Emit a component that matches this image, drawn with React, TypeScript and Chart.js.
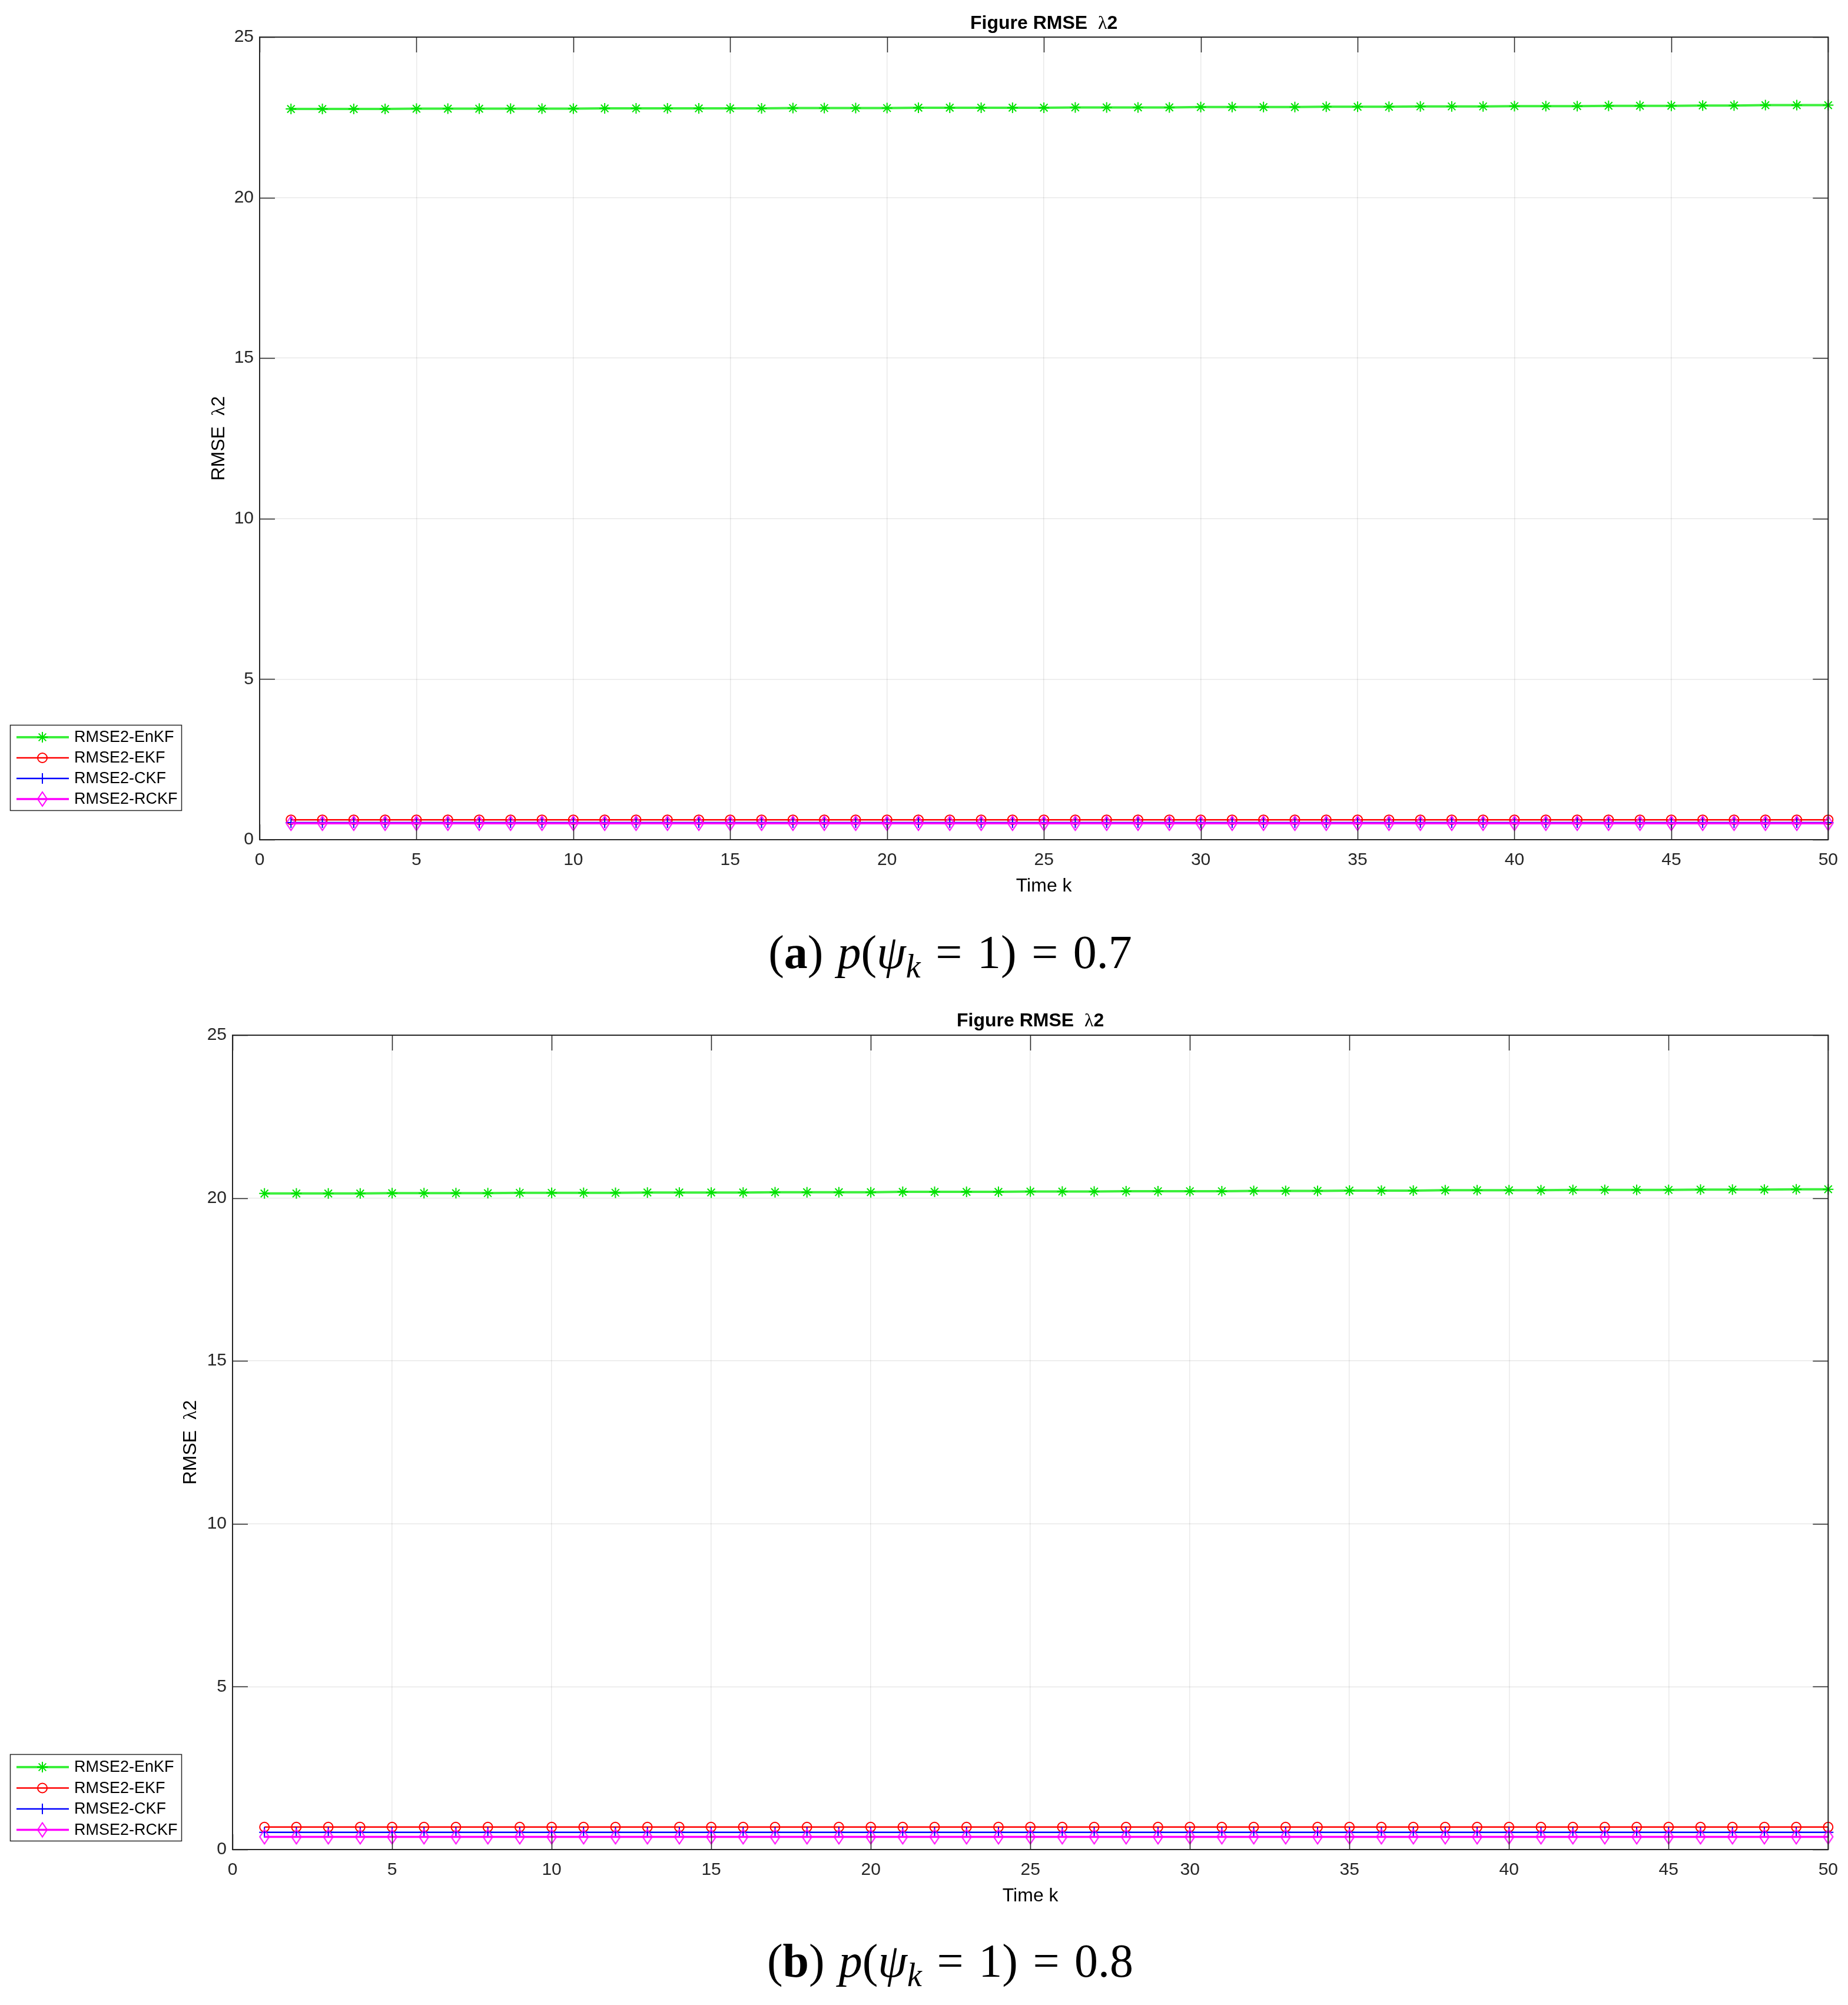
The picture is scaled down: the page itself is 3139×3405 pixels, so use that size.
import React, { useEffect, useRef } from 'react';
import { Chart, registerables } from 'chart.js';

Chart.register(...registerables);

// ---------------- data ----------------
const timeK = [1, 2, 3, 4, 5, 6, 7, 8, 9, 10, 11, 12, 13, 14, 15, 16, 17, 18, 19, 20, 21, 22, 23, 24, 25, 26, 27, 28, 29, 30, 31, 32, 33, 34, 35, 36, 37, 38, 39, 40, 41, 42, 43, 44, 45, 46, 47, 48, 49, 50];
const xTickValues = [0, 5, 10, 15, 20, 25, 30, 35, 40, 45, 50];
const yTickValues = [0, 5, 10, 15, 20, 25];
const seriesNames = ['RMSE2-EnKF', 'RMSE2-EKF', 'RMSE2-CKF', 'RMSE2-RCKF'];

// (a) p(psi_k = 1) = 0.7
const enkfA = [22.76, 22.76, 22.76, 22.76, 22.77, 22.77, 22.77, 22.77, 22.77, 22.77, 22.78, 22.78, 22.78, 22.78, 22.78, 22.78, 22.79, 22.79, 22.79, 22.79, 22.8, 22.8, 22.8, 22.8, 22.8, 22.81, 22.81, 22.81, 22.81, 22.82, 22.82, 22.82, 22.82, 22.83, 22.83, 22.83, 22.84, 22.84, 22.84, 22.85, 22.85, 22.85, 22.86, 22.86, 22.86, 22.87, 22.87, 22.88, 22.88, 22.88];
const ekfA = [0.62, 0.62, 0.62, 0.62, 0.62, 0.62, 0.62, 0.62, 0.62, 0.62, 0.62, 0.62, 0.62, 0.62, 0.62, 0.62, 0.62, 0.62, 0.62, 0.62, 0.62, 0.62, 0.62, 0.62, 0.62, 0.62, 0.62, 0.62, 0.62, 0.62, 0.62, 0.62, 0.62, 0.62, 0.62, 0.62, 0.62, 0.62, 0.62, 0.62, 0.62, 0.62, 0.62, 0.62, 0.62, 0.62, 0.62, 0.62, 0.62, 0.62];
const ckfA = [0.53, 0.53, 0.53, 0.53, 0.53, 0.53, 0.53, 0.53, 0.53, 0.53, 0.53, 0.53, 0.53, 0.53, 0.53, 0.53, 0.53, 0.53, 0.53, 0.53, 0.53, 0.53, 0.53, 0.53, 0.53, 0.53, 0.53, 0.53, 0.53, 0.53, 0.53, 0.53, 0.53, 0.53, 0.53, 0.53, 0.53, 0.53, 0.53, 0.53, 0.53, 0.53, 0.53, 0.53, 0.53, 0.53, 0.53, 0.53, 0.53, 0.53];
const rckfA = [0.51, 0.51, 0.51, 0.51, 0.51, 0.51, 0.51, 0.51, 0.51, 0.51, 0.51, 0.51, 0.51, 0.51, 0.51, 0.51, 0.51, 0.51, 0.51, 0.51, 0.51, 0.51, 0.51, 0.51, 0.51, 0.51, 0.51, 0.51, 0.51, 0.51, 0.51, 0.51, 0.51, 0.51, 0.51, 0.51, 0.51, 0.51, 0.51, 0.51, 0.51, 0.51, 0.51, 0.51, 0.51, 0.51, 0.51, 0.51, 0.51, 0.51];

// (b) p(psi_k = 1) = 0.8
const enkfB = [20.14, 20.14, 20.14, 20.14, 20.15, 20.15, 20.15, 20.15, 20.16, 20.16, 20.16, 20.16, 20.17, 20.17, 20.17, 20.17, 20.18, 20.18, 20.18, 20.18, 20.19, 20.19, 20.19, 20.19, 20.2, 20.2, 20.2, 20.21, 20.21, 20.21, 20.21, 20.22, 20.22, 20.22, 20.23, 20.23, 20.23, 20.24, 20.24, 20.24, 20.24, 20.25, 20.25, 20.25, 20.25, 20.26, 20.26, 20.26, 20.27, 20.27];
const ekfB = [0.69, 0.69, 0.69, 0.69, 0.69, 0.69, 0.69, 0.69, 0.69, 0.69, 0.69, 0.69, 0.69, 0.69, 0.69, 0.69, 0.69, 0.69, 0.69, 0.69, 0.69, 0.69, 0.69, 0.69, 0.69, 0.69, 0.69, 0.69, 0.69, 0.69, 0.69, 0.69, 0.69, 0.69, 0.69, 0.69, 0.69, 0.69, 0.69, 0.69, 0.69, 0.69, 0.69, 0.69, 0.69, 0.69, 0.69, 0.69, 0.69, 0.69];
const ckfB = [0.53, 0.53, 0.53, 0.53, 0.53, 0.53, 0.53, 0.53, 0.53, 0.53, 0.53, 0.53, 0.53, 0.53, 0.53, 0.53, 0.53, 0.53, 0.53, 0.53, 0.53, 0.53, 0.53, 0.53, 0.53, 0.53, 0.53, 0.53, 0.53, 0.53, 0.53, 0.53, 0.53, 0.53, 0.53, 0.53, 0.53, 0.53, 0.53, 0.53, 0.53, 0.53, 0.53, 0.53, 0.53, 0.53, 0.53, 0.53, 0.53, 0.53];
const rckfB = [0.39, 0.39, 0.39, 0.39, 0.39, 0.39, 0.39, 0.39, 0.39, 0.39, 0.39, 0.39, 0.39, 0.39, 0.39, 0.39, 0.39, 0.39, 0.39, 0.39, 0.39, 0.39, 0.39, 0.39, 0.39, 0.39, 0.39, 0.39, 0.39, 0.39, 0.39, 0.39, 0.39, 0.39, 0.39, 0.39, 0.39, 0.39, 0.39, 0.39, 0.39, 0.39, 0.39, 0.39, 0.39, 0.39, 0.39, 0.39, 0.39, 0.39];

// ---------------- styling ----------------
const SANS = '"Liberation Sans", Arial, Helvetica, sans-serif';
const SERIF = '"Liberation Serif", "Times New Roman", serif';
const AXIS_COLOR = '#262626';

function makeDiamond(color: string): HTMLCanvasElement {
  const c = document.createElement('canvas');
  c.width = 20;
  c.height = 28;
  const ctx = c.getContext('2d')!;
  ctx.strokeStyle = color;
  ctx.lineWidth = 2;
  ctx.beginPath();
  ctx.moveTo(10, 2);
  ctx.lineTo(18, 14);
  ctx.lineTo(10, 26);
  ctx.lineTo(2, 14);
  ctx.closePath();
  ctx.stroke();
  return c;
}

function drawMarker(ctx: CanvasRenderingContext2D, style: any, x: number, y: number, r: number, bw: number, color: string) {
  ctx.save();
  ctx.strokeStyle = color;
  ctx.lineWidth = bw;
  if (style && typeof style === 'object') {
    ctx.drawImage(style, x - style.width / 2, y - style.height / 2);
  } else if (style === 'circle') {
    ctx.beginPath();
    ctx.arc(x, y, r, 0, Math.PI * 2);
    ctx.stroke();
  } else if (style === 'cross') {
    ctx.beginPath();
    ctx.moveTo(x, y - r); ctx.lineTo(x, y + r);
    ctx.moveTo(x - r, y); ctx.lineTo(x + r, y);
    ctx.stroke();
  } else if (style === 'star') {
    const d = r * Math.SQRT1_2;
    ctx.beginPath();
    ctx.moveTo(x, y - r); ctx.lineTo(x, y + r);
    ctx.moveTo(x - r, y); ctx.lineTo(x + r, y);
    ctx.moveTo(x - d, y - d); ctx.lineTo(x + d, y + d);
    ctx.moveTo(x - d, y + d); ctx.lineTo(x + d, y - d);
    ctx.stroke();
  }
  ctx.restore();
}

type Part = { t: string; f: string };
function drawMixed(ctx: CanvasRenderingContext2D, parts: Part[], cx: number, cy: number, size: number, rotate: boolean) {
  ctx.save();
  ctx.translate(cx, cy);
  if (rotate) ctx.rotate(-Math.PI / 2);
  let total = 0;
  const widths = parts.map((p) => {
    ctx.font = p.f;
    const w = ctx.measureText(p.t).width;
    total += w;
    return w;
  });
  let x = -total / 2;
  ctx.fillStyle = '#000';
  ctx.textBaseline = 'alphabetic';
  ctx.textAlign = 'left';
  parts.forEach((p, i) => {
    ctx.font = p.f;
    ctx.fillText(p.t, x, size * 0.36);
    x += widths[i];
  });
  ctx.restore();
}

const framePlugin = {
  id: 'matlabFrame',
  afterDraw(chart: any, _args: any, opts: any) {
    const ctx: CanvasRenderingContext2D = chart.ctx;
    const { left, right, top, bottom } = chart.chartArea;
    const xs = chart.scales.x;
    const ys = chart.scales.y;
    const tl = opts.tickLen;

    // box + inner ticks
    ctx.save();
    ctx.strokeStyle = AXIS_COLOR;
    ctx.lineWidth = 2;
    ctx.strokeRect(left, top, right - left, bottom - top);
    ctx.beginPath();
    xTickValues.forEach((v) => {
      const px = Math.round(xs.getPixelForValue(v)) + 0.5;
      ctx.moveTo(px, bottom); ctx.lineTo(px, bottom - tl);
      ctx.moveTo(px, top); ctx.lineTo(px, top + tl);
    });
    yTickValues.forEach((v) => {
      const py = Math.round(ys.getPixelForValue(v)) + 0.5;
      ctx.moveTo(left, py); ctx.lineTo(left + tl, py);
      ctx.moveTo(right, py); ctx.lineTo(right - tl, py);
    });
    ctx.lineWidth = 1.5;
    ctx.stroke();
    ctx.restore();

    // titles
    const cx = (left + right) / 2;
    const ts = opts.titleSize;
    drawMixed(ctx, [
      { t: 'Figure RMSE  ', f: `bold ${ts}px ${SANS}` },
      { t: 'λ', f: `${ts}px ${SERIF}` },
      { t: '2', f: `bold ${ts}px ${SANS}` },
    ], cx, top - opts.titleGap, ts, false);
    const ls = opts.labelSize;
    drawMixed(ctx, [
      { t: 'RMSE  ', f: `${ls}px ${SANS}` },
      { t: 'λ', f: `${ls}px ${SERIF}` },
      { t: '2', f: `${ls}px ${SANS}` },
    ], opts.yTitleX, (top + bottom) / 2, ls, true);
    drawMixed(ctx, [{ t: 'Time k', f: `${ls}px ${SANS}` }], cx, bottom + opts.xTitleGap, ls, false);

    // legend
    const lb = opts.legendBox;
    ctx.save();
    ctx.fillStyle = '#fff';
    ctx.fillRect(lb.x, lb.y, lb.w, lb.h);
    ctx.strokeStyle = AXIS_COLOR;
    ctx.lineWidth = 1.5;
    ctx.strokeRect(lb.x + 0.5, lb.y + 0.5, lb.w, lb.h);
    chart.data.datasets.forEach((ds: any, i: number) => {
      const y = lb.y + lb.firstRow + i * lb.rowGap;
      ctx.strokeStyle = ds.borderColor;
      ctx.lineWidth = ds.borderWidth;
      ctx.beginPath();
      ctx.moveTo(lb.x + 11, y);
      ctx.lineTo(lb.x + 100, y);
      ctx.stroke();
      drawMarker(ctx, ds.pointStyle, lb.x + 55, y, ds.pointRadius, ds.pointBorderWidth, ds.pointBorderColor);
      ctx.fillStyle = '#000';
      ctx.font = `${lb.fontSize}px ${SANS}`;
      ctx.textAlign = 'left';
      ctx.textBaseline = 'middle';
      ctx.fillText(ds.label, lb.x + 109, y + 1);
    });
    ctx.restore();
  },
};

function buildConfig(series: number[][], area: any, canvasH: number, frameOpts: any) {
  const diamond = makeDiamond('rgb(255,0,255)');
  const styles = [
    { line: 'rgb(60,240,60)', point: 'rgb(0,225,0)', lw: 4, ps: 'star', r: 9, pbw: 2, order: 4 },
    { line: 'rgb(255,0,0)', point: 'rgb(255,0,0)', lw: 2.5, ps: 'circle', r: 8, pbw: 2, order: 3 },
    { line: 'rgb(0,0,255)', point: 'rgb(0,0,255)', lw: 2.5, ps: 'cross', r: 9, pbw: 2, order: 2 },
    { line: 'rgb(255,0,255)', point: 'rgb(255,0,255)', lw: 3.5, ps: diamond as any, r: 10, pbw: 2, order: 1 },
  ];
  const W = 3139;
  const yW = 60;
  const xH = 60;
  return {
    type: 'line' as const,
    data: {
      datasets: series.map((vals, i) => ({
        label: seriesNames[i],
        data: timeK.map((k, j) => ({ x: k, y: vals[j] })),
        borderColor: styles[i].line,
        borderWidth: styles[i].lw,
        pointStyle: styles[i].ps,
        pointRadius: styles[i].r,
        pointBorderWidth: styles[i].pbw,
        pointBorderColor: styles[i].point,
        pointBackgroundColor: 'rgba(0,0,0,0)',
        tension: 0,
        clip: false as any,
        order: styles[i].order,
      })),
    },
    options: {
      responsive: false,
      animation: false as const,
      devicePixelRatio: 1,
      events: [] as any,
      layout: {
        padding: {
          left: area.left - yW,
          right: W - area.right,
          top: area.top,
          bottom: canvasH - area.bottom - xH,
        },
      },
      scales: {
        x: {
          type: 'linear' as const,
          min: 0,
          max: 50,
          afterFit: (s: any) => { s.height = xH; },
          afterBuildTicks: (s: any) => { s.ticks = xTickValues.map((v) => ({ value: v })); },
          ticks: { font: { family: SANS, size: 30 }, color: AXIS_COLOR, padding: 17, maxRotation: 0 },
          grid: { color: 'rgba(38,38,38,0.10)', lineWidth: 1.5, drawTicks: false },
          border: { display: false },
        },
        y: {
          type: 'linear' as const,
          min: 0,
          max: 25,
          afterFit: (s: any) => { s.width = yW; },
          afterBuildTicks: (s: any) => { s.ticks = yTickValues.map((v) => ({ value: v })); },
          ticks: { font: { family: SANS, size: 30 }, color: AXIS_COLOR, padding: 10 },
          grid: { color: 'rgba(38,38,38,0.10)', lineWidth: 1.5, drawTicks: false },
          border: { display: false },
        },
      },
      plugins: {
        legend: { display: false },
        title: { display: false },
        tooltip: { enabled: false },
        matlabFrame: frameOpts,
      },
    },
    plugins: [framePlugin],
  };
}

const captionStyle: React.CSSProperties = {
  position: 'absolute',
  left: 614,
  width: 2000,
  height: 110,
  lineHeight: '110px',
  textAlign: 'center',
  fontFamily: SERIF,
  fontSize: 80,
  color: '#000',
  whiteSpace: 'nowrap',
};

function Caption({ letter, value, top }: { letter: string; value: string; top: number }) {
  const eq: React.CSSProperties = { margin: '0 0.32em' };
  return (
    <div style={{ ...captionStyle, top }}>
      (<b>{letter}</b>)<span style={{ marginLeft: '0.3em' }} /><i>p</i>(<i>ψ</i>
      <i style={{ fontSize: '0.7em', position: 'relative', top: '0.28em' }}>k</i>
      <span style={eq}>=</span>1)<span style={eq}>=</span>{value}
    </div>
  );
}

export default function App() {
  const ref1 = useRef<HTMLCanvasElement>(null);
  const ref2 = useRef<HTMLCanvasElement>(null);

  useEffect(() => {
    const H1 = 1570;
    const H2 = 1580;
    const c1 = new Chart(ref1.current!, buildConfig(
      [enkfA, ekfA, ckfA, rckfA],
      { left: 441, right: 3109, top: 63, bottom: 1426 },
      H1,
      {
        tickLen: 26, titleSize: 32, labelSize: 32, titleGap: 26, xTitleGap: 76, yTitleX: 369,
        legendBox: { x: 17, y: 1231, w: 291, h: 145, firstRow: 21, rowGap: 35, fontSize: 27 },
      },
    ) as any);
    const c2 = new Chart(ref2.current!, buildConfig(
      [enkfB, ekfB, ckfB, rckfB],
      { left: 395, right: 3109, top: 68, bottom: 1451 },
      H2,
      {
        tickLen: 26, titleSize: 32, labelSize: 32, titleGap: 27, xTitleGap: 76, yTitleX: 321,
        legendBox: { x: 17, y: 1289, w: 291, h: 147, firstRow: 22, rowGap: 35.5, fontSize: 27 },
      },
    ) as any);
    return () => {
      c1.destroy();
      c2.destroy();
    };
  }, []);

  return (
    <div style={{ position: 'absolute', left: 0, top: 0, width: 3139, height: 3405, background: '#fff', overflow: 'hidden' }}>
      <canvas ref={ref1} width={3139} height={1570} style={{ position: 'absolute', left: 0, top: 0, width: 3139, height: 1570 }} />
      <Caption letter="a" value="0.7" top={1562} />
      <canvas ref={ref2} width={3139} height={1580} style={{ position: 'absolute', left: 0, top: 1690, width: 3139, height: 1580 }} />
      <Caption letter="b" value="0.8" top={3275} />
    </div>
  );
}
